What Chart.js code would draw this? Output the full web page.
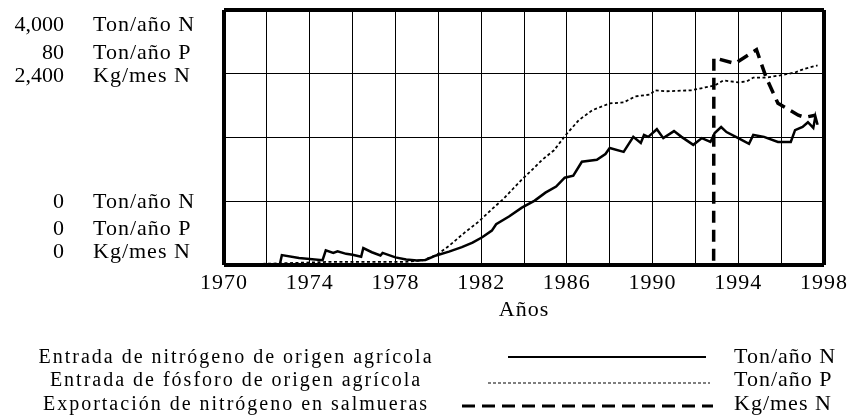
<!DOCTYPE html>
<html>
<head>
<meta charset="utf-8">
<script src="https://cdn.jsdelivr.net/npm/chart.js@4.4.1/dist/chart.umd.min.js"></script>
<style>
  body { margin: 0; background: #fff; }
  #wrap { position: relative; width: 851px; height: 420px; font-family: "Liberation Serif", "Times New Roman", serif; color: #000; }
  #wrap canvas { position: absolute; left: 0; top: 0; }
  .t { position: absolute; white-space: nowrap; line-height: 1; }
  .num { font-size: 22px; text-align: right; width: 64px; left: 0; }
  .unit { font-size: 22px; letter-spacing: 1px; left: 93px; }
  .leg { font-size: 20px; letter-spacing: 2px; text-align: center; left: 36px; width: 400px; }
  .legu { font-size: 22px; letter-spacing: 1px; left: 734px; }
  #wrap svg { position: absolute; left: 0; top: 0; }
</style>
</head>
<body>
<div id="wrap">
  <canvas id="chart" width="851" height="420"></canvas>

  <!-- left scale labels, three units stacked -->
  <div class="t num" style="top:13px">4,000</div><div class="t unit" style="top:13px">Ton/año N</div>
  <div class="t num" style="top:41px">80</div><div class="t unit" style="top:41px">Ton/año P</div>
  <div class="t num" style="top:64px">2,400</div><div class="t unit" style="top:64px">Kg/mes N</div>
  <div class="t num" style="top:190px">0</div><div class="t unit" style="top:190px">Ton/año N</div>
  <div class="t num" style="top:217px">0</div><div class="t unit" style="top:217px">Ton/año P</div>
  <div class="t num" style="top:240px">0</div><div class="t unit" style="top:240px">Kg/mes N</div>

  <!-- legend -->
  <div class="t leg" style="top:346px">Entrada de nitrógeno de origen agrícola</div>
  <div class="t leg" style="top:369px">Entrada de fósforo de origen agrícola</div>
  <div class="t leg" style="top:393px">Exportación de nitrógeno en salmueras</div>
  <svg width="851" height="420">
    <line x1="508" y1="357" x2="706" y2="357" stroke="#000" stroke-width="2.2"/>
    <line x1="488" y1="383" x2="710" y2="383" stroke="#000" stroke-width="1.2" stroke-dasharray="3 2"/>
    <line x1="462" y1="406" x2="713" y2="406" stroke="#000" stroke-width="3" stroke-dasharray="13 7"/>
  </svg>
  <div class="t legu" style="top:345px">Ton/año N</div>
  <div class="t legu" style="top:368px">Ton/año P</div>
  <div class="t legu" style="top:392px">Kg/mes N</div>
</div>

<script>
// Entrada de nitrógeno de origen agrícola (Ton/año N)
const nYears = [1970, 1972.6, 1972.7, 1973.5, 1974.6, 1974.75, 1975.1, 1975.3, 1975.7, 1976.0, 1976.4, 1976.5,
  1976.9, 1977.3, 1977.4, 1978.0, 1978.5, 1979.0, 1979.4, 1979.9, 1980.5, 1981.1, 1981.6, 1982.05, 1982.5,
  1982.7, 1983.3, 1983.9, 1984.5, 1985.0, 1985.5, 1985.9, 1986.3, 1986.7, 1987.4, 1987.8, 1988.0, 1988.65,
  1989.1, 1989.45, 1989.6, 1989.8, 1990.2, 1990.5, 1991.0, 1991.35, 1991.9, 1992.3, 1992.7, 1992.9, 1993.2,
  1993.45, 1994.0, 1994.5, 1994.7, 1995.2, 1995.85, 1996.45, 1996.65, 1997.0, 1997.25, 1997.5, 1997.6, 1997.7];
const nValues = [0, 0, 155, 110, 75, 230, 190, 215, 175, 160, 130, 265,
  200, 150, 190, 120, 85, 70, 80, 150, 210, 280, 350, 435, 540,
  640, 760, 900, 1010, 1135, 1230, 1370, 1400, 1620, 1650, 1740, 1835, 1775,
  2010, 1915, 2040, 2010, 2130, 1990, 2100, 2010, 1885, 1990, 1930, 2070, 2165,
  2085, 1990, 1900, 2040, 2010, 1930, 1930, 2115, 2165, 2240, 2150, 2330, 2200];

// Entrada de fósforo de origen agrícola (Ton/año P)
const pYears = [1970, 1972.5, 1975, 1978.5, 1979.3, 1979.9, 1980.5, 1981.2, 1981.9, 1982.5, 1983.0, 1983.5,
  1983.9, 1984.4, 1984.85, 1985.4, 1985.95, 1986.55, 1987.2, 1988.0, 1988.65, 1989.2, 1989.9, 1990.1, 1990.6,
  1991.8, 1992.45, 1992.9, 1993.3, 1994.0, 1994.4, 1994.7, 1995.3, 1995.95, 1996.65, 1997.1, 1997.7];
const pValues = [0, 0.5, 1, 1, 1.5, 3.1, 6, 10, 13.7, 17.5, 20.5, 24,
  26.8, 30, 33, 36, 40.8, 45.4, 48.6, 50.7, 51, 52.9, 53.5, 54.8, 54.5,
  54.8, 55.7, 56.3, 57.9, 57.3, 57.6, 58.8, 58.8, 59.5, 60.4, 61.6, 62.6];

// Exportación de nitrógeno en salmueras (Kg/mes N)
const kYears = [1970, 1992.85, 1992.86, 1993.85, 1994.85, 1995.3, 1995.85, 1996.8, 1997.1, 1997.6];
const kValues = [0, 0, 1950, 1896, 2026, 1765, 1522, 1410, 1390, 1410];

// x axis tick labels shown every 4 years, grid every 2
const yearTicks = [1970, 1974, 1978, 1982, 1986, 1990, 1994, 1998];

function toPoints(xs, ys) {
  return xs.map(function(x, i) { return { x: x, y: ys[i] }; });
}

const serif = "'Liberation Serif', 'Times New Roman', serif";

// the scanned figure has slightly spaced-out digits
const spacing = {
  id: 'spacing',
  beforeDraw: function(chart) { chart.ctx.letterSpacing = '1px'; }
};

new Chart(document.getElementById('chart'), {
  type: 'line',
  plugins: [spacing],
  data: {
    datasets: [
      {
        label: 'Entrada de nitrógeno de origen agrícola',
        data: toPoints(nYears, nValues),
        yAxisID: 'y',
        borderColor: '#000',
        borderWidth: 2.5
      },
      {
        label: 'Entrada de fósforo de origen agrícola',
        data: toPoints(pYears, pValues),
        yAxisID: 'yP',
        borderColor: '#000',
        borderWidth: 1.8,
        borderDash: [3, 2.5]
      },
      {
        label: 'Exportación de nitrógeno en salmueras',
        data: toPoints(kYears, kValues),
        yAxisID: 'yK',
        borderColor: '#000',
        borderWidth: 3.5,
        borderDash: [12, 7]
      }
    ]
  },
  options: {
    responsive: false,
    animation: false,
    layout: { padding: { top: 10, right: 25, left: 0, bottom: 0 } },
    elements: { point: { radius: 0 }, line: { tension: 0 } },
    plugins: { legend: { display: false }, tooltip: { enabled: false } },
    scales: {
      x: {
        type: 'linear',
        min: 1970,
        max: 1998,
        border: { display: false },
        grid: {
          color: '#000',
          drawTicks: false,
          lineWidth: function(ctx) {
            const v = ctx.tick && ctx.tick.value;
            return (v === 1970 || v === 1998) ? 4 : 1;
          }
        },
        ticks: {
          stepSize: 2,
          autoSkip: false,
          maxRotation: 0,
          padding: 5,
          color: '#000',
          font: { family: serif, size: 22 },
          callback: function(v) { return yearTicks.indexOf(v) >= 0 ? String(v) : ''; }
        },
        title: {
          display: true,
          text: 'Años',
          color: '#000',
          font: { family: serif, size: 22 },
          padding: { top: 0, bottom: 97 }
        },
        afterFit: function(s) { s.height = 155; }
      },
      y: {
        min: 0,
        max: 4000,
        border: { display: false },
        grid: {
          color: '#000',
          drawTicks: false,
          lineWidth: function(ctx) {
            const v = ctx.tick && ctx.tick.value;
            return (v === 0 || v === 4000) ? 4 : 1;
          }
        },
        ticks: { stepSize: 1000, display: false },
        afterFit: function(s) { s.width = 224; }
      },
      yP: { display: false, min: 0, max: 80 },
      yK: { display: false, min: 0, max: 2400 }
    }
  }
});
</script>
</body>
</html>
